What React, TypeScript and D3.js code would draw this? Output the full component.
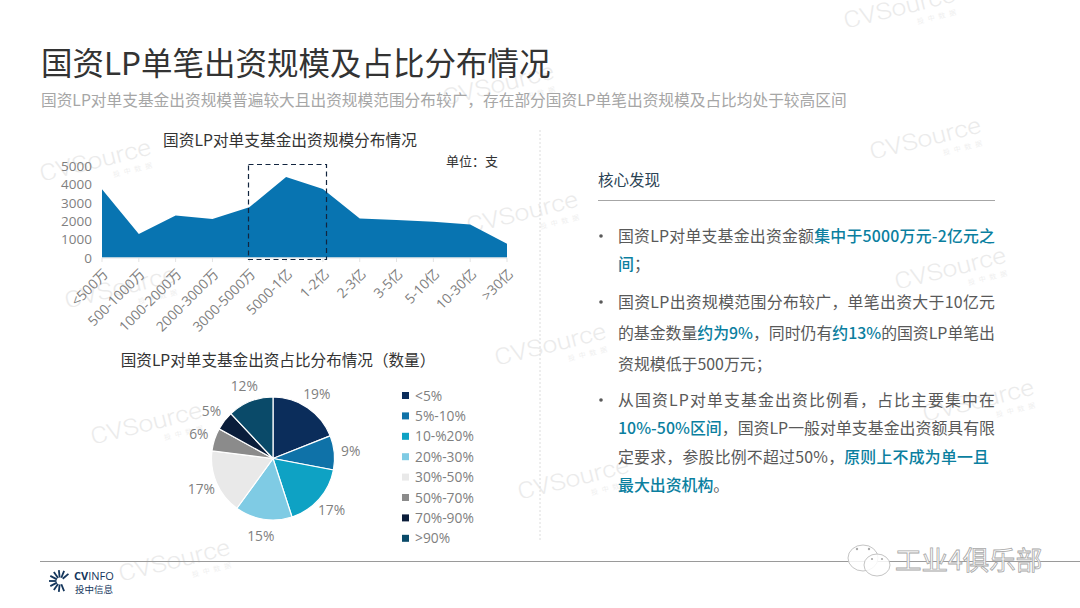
import React from 'react';
import * as d3 from 'd3';

const CJK = '"Noto Sans CJK SC", "Noto Sans", sans-serif';
const LATIN = '"Open Sans", "Noto Sans CJK SC", sans-serif';

const sizeCategories = ['<500万', '500-1000万', '1000-2000万', '2000-3000万', '3000-5000万', '5000-1亿', '1-2亿', '2-3亿', '3-5亿', '5-10亿', '10-30亿', '>30亿'];
const sizeValues = [3730, 1290, 2290, 2110, 2745, 4400, 3745, 2130, 2055, 1960, 1800, 745];
const sizeTicks = [0, 1000, 2000, 3000, 4000, 5000];

const shareCategories = ['<5%', '5%-10%', '10-%20%', '20%-30%', '30%-50%', '50%-70%', '70%-90%', '>90%'];
const shareValues = [19, 9, 17, 15, 17, 6, 5, 12];
const shareColors = ['#0b2d5b', '#0f72a8', '#0ea2c4', '#7fcbe4', '#e9e9e9', '#8b8b8b', '#0a1d3a', '#0a4a69'];

// [text, highlighted]
type Seg = [string, boolean];
const findings: { y: number; fit?: number; segs: Seg[] }[][] = [
  [
    { y: 236, fit: 377, segs: [['国资LP对单支基金出资金额', false], ['集中于5000万元-2亿元之', true]] },
    { y: 264, segs: [['间', true], ['；', false]] },
  ],
  [
    { y: 302, fit: 377, segs: [['国资LP出资规模范围分布较广，单笔出资大于10亿元', false]] },
    { y: 333, fit: 377, segs: [['的基金数量', false], ['约为9%', true], ['，同时仍有', false], ['约13%', true], ['的国资LP单笔出', false]] },
    { y: 364, segs: [['资规模低于500万元；', false]] },
  ],
  [
    { y: 400, fit: 377, segs: [['从国资LP对单支基金出资比例看，占比主要集中在', false]] },
    { y: 428, fit: 377, segs: [['10%-50%区间', true], ['，国资LP一般对单支基金出资额具有限', false]] },
    { y: 457, fit: 371, segs: [['定要求，参股比例不超过50%，', false], ['原则上不成为单一且', true]] },
    { y: 485, segs: [['最大出资机构', true], ['。', false]] },
  ],
];

const watermarks = [
  [901, 15], [500, 92], [97, 168], [927, 146], [524, 220], [122, 295],
  [952, 276], [552, 352], [148, 431], [980, 408], [575, 486], [176, 568],
];

const logoRays = [50, 22, -6, -34, -62, -90, -118, -146, -174, 158];

const width = 1080;
const height = 608;

const x = d3.scalePoint<string>().domain(sizeCategories).range([102, 507]);
const y = d3.scaleLinear().domain([0, 5000]).range([257.5, 166]);

const areaPath = d3
  .area<number>()
  .x((_, i) => x(sizeCategories[i]) as number)
  .y0(y(0))
  .y1((d) => y(d))(sizeValues) as string;

const pieCx = 273;
const pieCy = 458.5;
const pieSlices = d3.pie<number>().sort(null)(shareValues);
const sliceArc = d3.arc<d3.PieArcDatum<number>>().innerRadius(0).outerRadius(61.5);
const labelArc = d3.arc<d3.PieArcDatum<number>>().innerRadius(78).outerRadius(78);

const App = () => {
  return (
    <svg
      width={width}
      height={height}
      viewBox={`0 0 ${width} ${height}`}
      style={{ position: 'absolute', left: 0, top: 0, background: '#fff' }}
      fontFamily={CJK}
    >
      {/* watermarks */}
      {watermarks.map(([wx, wy], i) => (
        <g key={i} transform={`translate(${wx},${wy}) rotate(-14)`} fill="#ebebeb">
          <text x={-57} fontFamily="Roboto, sans-serif" fontWeight={300} fontSize={23} textLength={114} lengthAdjust="spacingAndGlyphs">
            CVSource
          </text>
          <text x={14} y={13} fontSize={7} letterSpacing={4} fill="#efefef">投中数据</text>
        </g>
      ))}

      <text x={41} y={75} fontSize={31.5} fill="#333">国资LP单笔出资规模及占比分布情况</text>
      <text x={41} y={106} fontSize={15.7} fill="#a6a6a6">
        国资LP对单支基金出资规模普遍较大且出资规模范围分布较广，存在部分国资LP单笔出资规模及占比均处于较高区间
      </text>

      {/* area chart */}
      <text x={290} y={146} fontSize={15.7} fill="#333" textAnchor="middle">国资LP对单支基金出资规模分布情况</text>
      <text x={446} y={166} fontSize={13} fill="#333">单位：支</text>
      <path d={areaPath} fill="#0874b1" />
      <line x1={102} x2={507} y1={258} y2={258} stroke="#e3e3e3" />
      {sizeTicks.map((t) => (
        <text key={t} x={92} y={y(t) + 5} fontSize={13.5} fontFamily={LATIN} fill="#7f7f7f" textAnchor="end">
          {t}
        </text>
      ))}
      {sizeCategories.map((c) => (
        <g key={c} transform={`translate(${x(c)},0)`}>
          <line y1={258} y2={262} stroke="#e3e3e3" />
          <text
            transform="translate(7,275) rotate(-45)"
            fontSize={13.8}
            fontFamily={LATIN}
            fill="#7f7f7f"
            textAnchor="end"
          >
            {c}
          </text>
        </g>
      ))}
      <rect x={248.5} y={164.5} width={78} height={95} fill="none" stroke="#12253f" strokeWidth={1.2} strokeDasharray="5 3.5" />

      {/* pie chart */}
      <text x={278} y={366} fontSize={15.6} fill="#333" textAnchor="middle">国资LP对单支基金出资占比分布情况（数量）</text>
      <g transform={`translate(${pieCx},${pieCy})`}>
        {pieSlices.map((s, i) => (
          <path key={i} d={sliceArc(s) as string} fill={shareColors[i]} stroke="#fff" strokeWidth={1.2} />
        ))}
        {pieSlices.map((s, i) => {
          const [lx, ly] = labelArc.centroid(s);
          return (
            <text key={i} x={lx} y={ly + 5} fontSize={13.8} fontFamily={LATIN} fill="#7f7f7f" textAnchor="middle">
              {s.data}%
            </text>
          );
        })}
      </g>
      {shareCategories.map((c, i) => (
        <g key={c} transform={`translate(0,${395.5 + i * 20.4})`}>
          <rect x={402} y={-3.5} width={7} height={7} fill={shareColors[i]} />
          <text x={415} y={5} fontSize={13.8} fontFamily={LATIN} fill="#7f7f7f">{c}</text>
        </g>
      ))}

      {/* divider */}
      <line x1={540} x2={540} y1={130} y2={540} stroke="#dcdcdc" strokeDasharray="2 2" />

      {/* findings */}
      <text x={598} y={185.5} fontSize={15.5} fill="#2b4354">核心发现</text>
      <line x1={598} x2={995} y1={200.5} y2={200.5} stroke="#a6a6a6" />
      {findings.map((para, p) =>
        para.map((line, l) => (
          <g key={`${p}-${l}`}>
            {l === 0 && <circle cx={601} cy={line.y} r={1.8} fill="#595959" />}
            <text x={618} y={line.y + 5.5} fontSize={15.9} fill="#595959" textLength={line.fit} lengthAdjust="spacing">
              {line.segs.map(([t, hi], k) => (
                <tspan key={k} fill={hi ? '#0b7f9f' : '#595959'} fontWeight={hi ? 500 : 400}>{t}</tspan>
              ))}
            </text>
          </g>
        )),
      )}

      {/* footer */}
      <line x1={40} x2={1080} y1={561.5} y2={561.5} stroke="#9a9a9a" />
      <g stroke="#14365c" strokeWidth={1.8}>
        {logoRays.map((a) => {
          const r = (a * Math.PI) / 180;
          return (
            <line
              key={a}
              x1={60 + 3.5 * Math.sin(r)}
              y1={581 - 3.5 * Math.cos(r)}
              x2={60 + 11 * Math.sin(r)}
              y2={581 - 11 * Math.cos(r)}
            />
          );
        })}
      </g>
      <text x={74} y={580} fontSize={11} fontFamily={LATIN} fill="#14365c" fontWeight={700}>
        CV<tspan fontWeight={400}>INFO</tspan>
      </text>
      <text x={75} y={593} fontSize={9.5} fill="#14365c">投中信息</text>

      {/* wechat stamp */}
      <g fill="#fff" fillOpacity={0.85} stroke="#b5b5b5" strokeWidth={0.8}>
        <ellipse cx={863} cy={558} rx={15} ry={13} />
        <ellipse cx={877} cy={565} rx={13} ry={11} />
      </g>
      <g fill="#aaa">
        <circle cx={857} cy={549} r={1.2} />
        <circle cx={869} cy={549} r={1.2} />
        <circle cx={872} cy={559} r={1.1} />
        <circle cx={882} cy={559} r={1.1} />
      </g>
      <text x={895} y={570} fontSize={26.5} fill="#fff" stroke="#a8a8a8" strokeWidth={0.8}>工业4俱乐部</text>
    </svg>
  );
};

export default App;
